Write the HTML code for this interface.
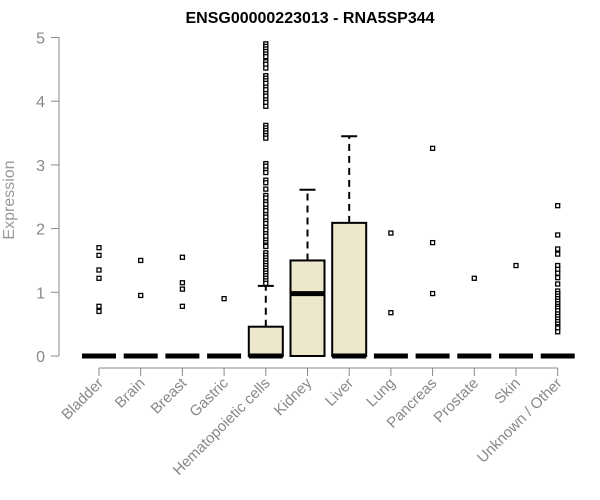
<!DOCTYPE html>
<html><head><meta charset="utf-8"><style>
body{margin:0;background:#fff}
svg{display:block;font-family:"Liberation Sans",Arial,sans-serif}
</style></head><body>
<svg id="c" width="600" height="500">
<text x="310" y="23" text-anchor="middle" font-weight="bold" font-size="16">ENSG00000223013 - RNA5SP344</text>
<text transform="translate(14,200) rotate(-90)" text-anchor="middle" font-size="16" fill="#999">Expression</text>
<g id="g"></g>
</svg>
<script>
const categories=["Bladder","Brain","Breast","Gastric","Hematopoietic cells","Kidney","Liver","Lung","Pancreas","Prostate","Skin","Unknown / Other"];
const q1=[0,0,0,0,0,0,0,0,0,0,0,0];
const medians=[0,0,0,0,0,0.98,0,0,0,0,0,0];
const q3=[0,0,0,0,0.46,1.50,2.09,0,0,0,0,0];
const whiskerHigh=[0,0,0,0,1.10,2.61,3.45,0,0,0,0,0];
const outliers=[
[1.70,1.58,1.35,1.22,0.78,0.70],
[1.50,0.95],
[1.55,1.15,1.05,0.78],
[0.90],
[4.90,4.86,4.82,4.78,4.74,4.70,4.62,4.58,4.52,4.40,4.36,4.32,4.28,4.22,4.18,4.12,4.08,4.02,3.98,3.92,3.62,3.58,3.54,3.50,3.46,3.42,3.02,2.98,2.92,2.88,2.76,2.72,2.62,2.52,2.48,2.42,2.38,2.32,2.28,2.22,2.18,2.12,2.08,2.02,1.98,1.92,1.88,1.82,1.78,1.74,1.72,1.62,1.58,1.54,1.50,1.46,1.42,1.38,1.34,1.30,1.26,1.22,1.18,1.14],
[],
[],
[1.93,0.68],
[3.26,1.78,0.98],
[1.22],
[1.42],
[2.36,1.90,1.68,1.60,1.42,1.36,1.30,1.23,1.13,1.02,0.98,0.94,0.90,0.86,0.82,0.78,0.75,0.71,0.66,0.62,0.58,0.54,0.50,0.46,0.44,0.38]
];
const yTicks=[0,1,2,3,4,5];
const NS="http://www.w3.org/2000/svg";
const g=document.getElementById('g');
const y=v=>356-v*63.7;
const x=i=>99+i*41.7;
function mk(t,a){const e=document.createElementNS(NS,t);for(const k in a)e.setAttribute(k,a[k]);g.appendChild(e);return e;}
const axc="#888";
let e=mk('line',{x1:59,x2:59,y1:y(0),y2:y(5),stroke:axc});


yTicks.forEach(t=>{
 let l=mk('line',{x1:51,x2:59,y1:y(t),y2:y(t),stroke:axc});
 
 
 let tx=mk('text',{x:45,y:y(t)+6,'text-anchor':'end','font-size':16,fill:axc});
 tx.textContent=t;
 
 
});
e=mk('line',{x1:x(0),x2:x(11),y1:368,y2:368,stroke:axc});


const hw=17;
categories.forEach((c,i)=>{
 const cx=x(i);
 let t=mk('line',{x1:cx,x2:cx,y1:368,y2:376,stroke:axc});
 
 
 let lb=mk('text',{transform:`translate(${cx+5},${384}) rotate(-45)`,'text-anchor':'end','font-size':15,fill:axc});
 lb.textContent=c;
 
 
 if(whiskerHigh[i]>q3[i]){
  let w=mk('line',{x1:cx,x2:cx,y1:y(q3[i]),y2:y(whiskerHigh[i]),stroke:'#000','stroke-width':2,'stroke-dasharray':'7,5'});
  
  
  let cap=mk('line',{x1:cx-8,x2:cx+8,y1:y(whiskerHigh[i]),y2:y(whiskerHigh[i]),stroke:'#000','stroke-width':2});
  
  
 }
 if(q3[i]>q1[i]){
  let b=mk('rect',{x:cx-hw,y:y(q3[i]),width:2*hw,height:y(q1[i])-y(q3[i]),fill:'#ede7cc',stroke:'#000','stroke-width':2});
  
  
 }
 let m=mk('line',{x1:cx-hw,x2:cx+hw,y1:y(medians[i]),y2:y(medians[i]),stroke:'#000','stroke-width':5});
 
 
 outliers[i].forEach(v=>{
  let p=mk('rect',{x:cx-2,y:y(v)-2,width:4,height:4,fill:'#fff',stroke:'#000','stroke-width':1.3});
  
  
 });
});
</script>
</body></html>
